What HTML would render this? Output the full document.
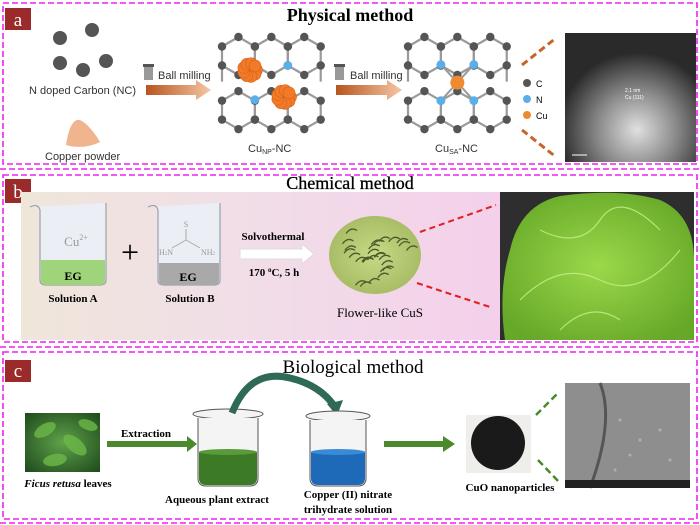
<!DOCTYPE html>
<html><head><meta charset="utf-8"><style>
html,body{margin:0;padding:0;background:#fff;}
svg{display:block;}
text{font-family:"Liberation Serif",serif;}
.s{font-family:"Liberation Sans",sans-serif;}
</style></head><body>
<svg id="sv" width="700" height="525" viewBox="0 0 700 525" xmlns="http://www.w3.org/2000/svg">
<defs>
<linearGradient id="oa" x1="0" x2="1"><stop offset="0" stop-color="#b8551f"/><stop offset="1" stop-color="#f5c7a5"/></linearGradient>
<linearGradient id="bg" x1="0" x2="1"><stop offset="0" stop-color="#efe6da"/><stop offset="0.5" stop-color="#f1dde8"/><stop offset="1" stop-color="#f4d0ea"/></linearGradient>
<radialGradient id="tem" cx="0.55" cy="0.75" r="0.6"><stop offset="0" stop-color="#e0e0e0"/><stop offset="0.5" stop-color="#8a8a8a"/><stop offset="1" stop-color="#2a2a2a"/></radialGradient>
<radialGradient id="fl" cx="0.5" cy="0.5" r="0.5"><stop offset="0" stop-color="#c6d986"/><stop offset="1" stop-color="#a9bd66"/></radialGradient>
<radialGradient id="sem" cx="0.5" cy="0.5" r="0.6"><stop offset="0" stop-color="#9bd94a"/><stop offset="1" stop-color="#66a828"/></radialGradient>
<radialGradient id="lf" cx="0.5" cy="0.5" r="0.7"><stop offset="0" stop-color="#5fa24a"/><stop offset="1" stop-color="#1f4a1c"/></radialGradient>
</defs>
<g fill="none" stroke="#ee22ee" stroke-width="1.6" stroke-dasharray="6,3">
<rect x="3" y="3" width="694" height="161"/>
<rect x="3" y="175" width="694" height="167"/>
<rect x="3" y="352" width="694" height="167"/>
<line x1="0" y1="169" x2="700" y2="169"/>
<line x1="0" y1="347" x2="700" y2="347"/>
<line x1="0" y1="523" x2="700" y2="523"/>
</g>
<g>
<rect x="5" y="8" width="26" height="22" fill="#9b2a2a"/><text x="18" y="26" fill="#fff" font-size="19" text-anchor="middle">a</text>
<rect x="5" y="179" width="26" height="24" fill="#9b2a2a"/><text x="18" y="198" fill="#fff" font-size="19" text-anchor="middle">b</text>
<rect x="5" y="360" width="26" height="22" fill="#9b2a2a"/><text x="18" y="377" fill="#fff" font-size="19" text-anchor="middle">c</text>
</g>
<text x="350" y="21" font-size="18" font-weight="bold" text-anchor="middle">Physical method</text>
<text x="350" y="189" font-size="18" text-anchor="middle" stroke="#000" stroke-width="0.3">Chemical method</text>
<text x="353" y="373" font-size="19" text-anchor="middle">Biological method</text>

<g fill="#555">
<circle cx="60" cy="38" r="7"/><circle cx="92" cy="30" r="7"/><circle cx="60" cy="63" r="7"/><circle cx="83" cy="70" r="7"/><circle cx="106" cy="61" r="7"/>
</g>
<text class="s" x="29" y="94" font-size="11" fill="#333">N doped Carbon (NC)</text>
<path d="M66 145 Q70 118 80 120 Q90 125 100 142 Q84 150 66 145Z" fill="#f0b48e"/>
<text class="s" x="45" y="160" font-size="11" fill="#333">Copper powder</text>
<g>
<rect x="144" y="66" width="9" height="14" fill="#999"/><rect x="143" y="64" width="11" height="3" fill="#555"/>
<text class="s" x="158" y="79" font-size="11" fill="#333">Ball milling</text>
<path d="M146 85 H196 V80 L211 90 L196 100 V95 H146Z" fill="url(#oa)"/>
<rect x="335" y="66" width="9" height="14" fill="#999"/><rect x="334" y="64" width="11" height="3" fill="#555"/>
<text class="s" x="350" y="79" font-size="11" fill="#333">Ball milling</text>
<path d="M336 85 H387 V80 L402 90 L387 100 V95 H336Z" fill="url(#oa)"/>
</g>
<g id="lat1"></g><g id="lat2"></g>
<text class="s" x="248" y="152" font-size="11" fill="#333">Cu<tspan font-size="7" dy="2">NP</tspan><tspan dy="-2">-NC</tspan></text>
<text class="s" x="435" y="152" font-size="11" fill="#333">Cu<tspan font-size="7" dy="2">SA</tspan><tspan dy="-2">-NC</tspan></text>
<circle cx="527" cy="83" r="4" fill="#555"/><text class="s" x="536" y="87" font-size="9">C</text>
<circle cx="527" cy="99" r="4" fill="#5aaeea"/><text class="s" x="536" y="103" font-size="9">N</text>
<circle cx="527" cy="115" r="4" fill="#f08a30"/><text class="s" x="536" y="119" font-size="9">Cu</text>
<g stroke="#c8642a" stroke-width="3" stroke-dasharray="7,4"><line x1="522" y1="65" x2="556" y2="38"/><line x1="522" y1="130" x2="556" y2="157"/></g>
<rect x="565" y="33" width="131" height="129" fill="url(#tem)"/>
<text class="s" x="625" y="92" font-size="5" fill="#fff">2.1 nm</text><text class="s" x="625" y="99" font-size="5" fill="#fff">Cu (111)</text>
<line x1="572" y1="155" x2="587" y2="155" stroke="#fff"/>

<rect x="21" y="192" width="479" height="148" fill="url(#bg)"/>
<rect x="500" y="192" width="194" height="148" fill="#2e2e2e"/>
<path d="M505 340 Q498 290 510 250 Q520 205 560 196 Q620 188 660 200 Q694 215 694 260 L694 340Z" fill="url(#sem)"/>
<g stroke="#c6f08a" stroke-width="1.2" fill="none" opacity="0.8"><path d="M520 300 Q560 260 600 280 T680 250"/><path d="M540 230 Q580 250 600 220 T660 230"/><path d="M560 330 Q590 300 620 320"/></g>
<path d="M30 207 Q38 203 40 210 L40 280 Q40 285 46 285 H100 Q106 285 106 280 V203" fill="#eceef5" stroke="#9aa0b0" stroke-width="1.2"/>
<path d="M41 260 H105 V280 Q105 285 100 285 H46 Q41 285 41 280Z" fill="#9fd47a"/>
<text x="76" y="246" font-size="13" fill="#9a9a9a" text-anchor="middle">Cu<tspan font-size="8" dy="-6">2+</tspan></text>
<text x="73" y="280" font-size="12" font-weight="bold" text-anchor="middle">EG</text>
<text x="73" y="302" font-size="11" font-weight="bold" text-anchor="middle">Solution A</text>
<text x="130" y="263" font-size="32" text-anchor="middle">+</text>
<path d="M148 207 Q156 203 158 210 L158 280 Q158 285 164 285 H214 Q220 285 220 280 V203" fill="#eceef5" stroke="#9aa0b0" stroke-width="1.2"/>
<path d="M159 263 H219 V280 Q219 285 214 285 H164 Q159 285 159 280Z" fill="#a9a9a9"/>
<text x="186" y="227" font-size="8" fill="#999" text-anchor="middle">S</text>
<path d="M186 229 V240 M186 240 L172 248 M186 240 L200 248" stroke="#aaa" fill="none"/>
<text x="166" y="255" font-size="8" fill="#999" text-anchor="middle">H<tspan font-size="5">2</tspan>N</text>
<text x="208" y="255" font-size="8" fill="#999" text-anchor="middle">NH<tspan font-size="5">2</tspan></text>
<text x="188" y="281" font-size="12" font-weight="bold" text-anchor="middle">EG</text>
<text x="190" y="302" font-size="11" font-weight="bold" text-anchor="middle">Solution B</text>
<text x="273" y="240" font-size="11" font-weight="bold" text-anchor="middle">Solvothermal</text>
<path d="M240 249 H302 V244 L314 254 L302 264 V259 H240Z" fill="#fff" stroke="#ddd"/>
<text x="274" y="276" font-size="11" font-weight="bold" text-anchor="middle">170 <tspan font-size="7" dy="-4">o</tspan><tspan dy="4">C, 5 h</tspan></text>
<ellipse cx="375" cy="255" rx="46" ry="39" fill="url(#fl)"/>
<g id="flw" stroke="#4b5a2a" stroke-width="1.3" fill="none"></g>
<text x="380" y="317" font-size="13" text-anchor="middle">Flower-like CuS</text>
<g stroke="#e02020" stroke-width="2" stroke-dasharray="6,4"><line x1="420" y1="232" x2="496" y2="205"/><line x1="417" y1="283" x2="493" y2="308"/></g>

<rect x="25" y="413" width="75" height="59" fill="url(#lf)"/>
<g fill="#6cb848" opacity="0.8"><ellipse cx="45" cy="430" rx="12" ry="6" transform="rotate(-30 45 430)"/><ellipse cx="75" cy="445" rx="14" ry="7" transform="rotate(40 75 445)"/><ellipse cx="55" cy="460" rx="12" ry="6" transform="rotate(-10 55 460)"/><ellipse cx="88" cy="425" rx="10" ry="5" transform="rotate(20 88 425)"/></g>
<text x="68" y="487" font-size="11" font-weight="bold" text-anchor="middle"><tspan font-style="italic">Ficus retusa</tspan> leaves</text>
<text x="146" y="437" font-size="11" font-weight="bold" text-anchor="middle">Extraction</text>
<path d="M107 441 H187 V436 L197 444 L187 452 V447 H107Z" fill="#4a8a2c"/>
<ellipse cx="228" cy="414" rx="35" ry="5" fill="#f4f4f4" stroke="#555" stroke-width="1"/>
<path d="M198 418 V478 Q198 486 206 486 H250 Q258 486 258 478 V418" fill="#f4f4f4" stroke="#555"/>
<path d="M199 452 H257 V478 Q257 485 250 485 H206 Q199 485 199 478Z" fill="#3d7a26"/>
<ellipse cx="228" cy="452" rx="29" ry="3" fill="#5a9a3a"/>
<path d="M232 413 Q250 368 290 378 Q320 385 335 407" stroke="#2f6a55" stroke-width="7" fill="none"/>
<path d="M327 404 L343 400 L337 416Z" fill="#2f6a55"/>
<text x="217" y="503" font-size="11" font-weight="bold" text-anchor="middle">Aqueous plant extract</text>
<ellipse cx="338" cy="416" rx="32" ry="5" fill="#f4f4f4" stroke="#555"/>
<path d="M310 420 V478 Q310 486 318 486 H358 Q366 486 366 478 V420" fill="#f4f4f4" stroke="#555"/>
<path d="M311 452 H365 V478 Q365 485 358 485 H318 Q311 485 311 478Z" fill="#1f6ab8"/>
<ellipse cx="338" cy="452" rx="27" ry="3" fill="#3a8ad8"/>
<text x="348" y="498" font-size="11" font-weight="bold" text-anchor="middle">Copper (II) nitrate</text>
<text x="348" y="513" font-size="11" font-weight="bold" text-anchor="middle">trihydrate solution</text>
<path d="M384 441 H443 V436 L455 444 L443 452 V447 H384Z" fill="#4a8a2c"/>
<rect x="466" y="415" width="65" height="58" fill="#efeeea"/>
<ellipse cx="498" cy="443" rx="27" ry="27" fill="#1a1a1a"/>
<text x="510" y="491" font-size="11" font-weight="bold" text-anchor="middle">CuO nanoparticles</text>
<g stroke="#4a8a2c" stroke-width="2.5" stroke-dasharray="7,4"><line x1="536" y1="415" x2="558" y2="393"/><line x1="538" y1="460" x2="560" y2="483"/></g>
<rect x="565" y="383" width="125" height="105" fill="#8e8e8e"/>
<g fill="#bdbdbd" opacity="0.7"><circle cx="620" cy="420" r="1.5"/><circle cx="640" cy="440" r="1.5"/><circle cx="660" cy="430" r="1.5"/><circle cx="630" cy="455" r="1.5"/><circle cx="670" cy="460" r="1.5"/><circle cx="615" cy="470" r="1.5"/></g>
<path d="M600 383 Q615 420 590 488" stroke="#555" stroke-width="3" fill="none"/>
<rect x="565" y="480" width="125" height="8" fill="#222"/>
</svg>
<script>
var NS="http://www.w3.org/2000/svg";
function el(p,t,a){var e=document.createElementNS(NS,t);for(var k in a)e.setAttribute(k,a[k]);p.appendChild(e);return e;}
function lattice(id,x0,y0,cu){
 var g=document.getElementById(id),s=19,w=Math.sqrt(3)*s,pts=[],edges=[];
 var rows=[y0+s,y0+s+3*s*0.95];
 rows.forEach(function(cy){for(var i=0;i<3;i++){var cx=x0+w/2+i*w;var v=[];for(var k=0;k<6;k++){var a=Math.PI/180*(60*k-90);v.push([cx+s*Math.cos(a),cy+s*Math.sin(a)]);}
 for(var k=0;k<6;k++){edges.push([v[k],v[(k+1)%6]]);pts.push(v[k]);}}});
 for(var i=0;i<4;i+=3){var x=x0+i*w;edges.push([[x,y0+s*1.5],[x,y0+s*1.5+s*0.85]]);}
 edges.forEach(function(e){el(g,"line",{x1:e[0][0],y1:e[0][1],x2:e[1][0],y2:e[1][1],stroke:"#9a9a9a","stroke-width":2.2});});
 pts.forEach(function(p){el(g,"circle",{cx:p[0],cy:p[1],r:4.2,fill:"#555"});});
 if(cu){var cx=x0+1.5*w,cy=y0+s*2.4;
  [[-w/2,-s*0.95],[w/2,-s*0.95],[-w/2,s*0.95],[w/2,s*0.95]].forEach(function(d){el(g,"line",{x1:cx,y1:cy,x2:cx+d[0],y2:cy+d[1],stroke:"#9a9a9a","stroke-width":2});el(g,"circle",{cx:cx+d[0],cy:cy+d[1],r:4.4,fill:"#5aaeea"});});
  el(g,"circle",{cx:cx,cy:cy,r:7,fill:"#f08a30"});}
 else{
  el(g,"circle",{cx:x0+2*w,cy:y0+s*1.5,r:4.4,fill:"#5aaeea"});el(g,"circle",{cx:x0+w,cy:y0+s*3.3,r:4.4,fill:"#5aaeea"});
  [[x0+28,y0+33,13],[x0+62,y0+60,13]].forEach(function(c){for(var k=0;k<9;k++){var a=k*0.7;el(g,"circle",{cx:c[0]+Math.cos(a)*c[2]*0.5,cy:c[1]+Math.sin(a)*c[2]*0.5,r:6,fill:"#f07a28",stroke:"#d86418","stroke-width":0.6});}});
 }
}
lattice("lat1",222,37,false);lattice("lat2",408,37,true);
var f=document.getElementById("flw");
for(var i=0;i<28;i++){var a=i*2.4,r=(i%7)*5+4,x=375+Math.cos(a)*r*1.1,y=255+Math.sin(a)*r*0.9;
 el(f,"path",{d:"M"+(x-5)+" "+(y+2)+" Q"+x+" "+(y-5)+" "+(x+6)+" "+(y-1)});}
</script>
</body></html>
